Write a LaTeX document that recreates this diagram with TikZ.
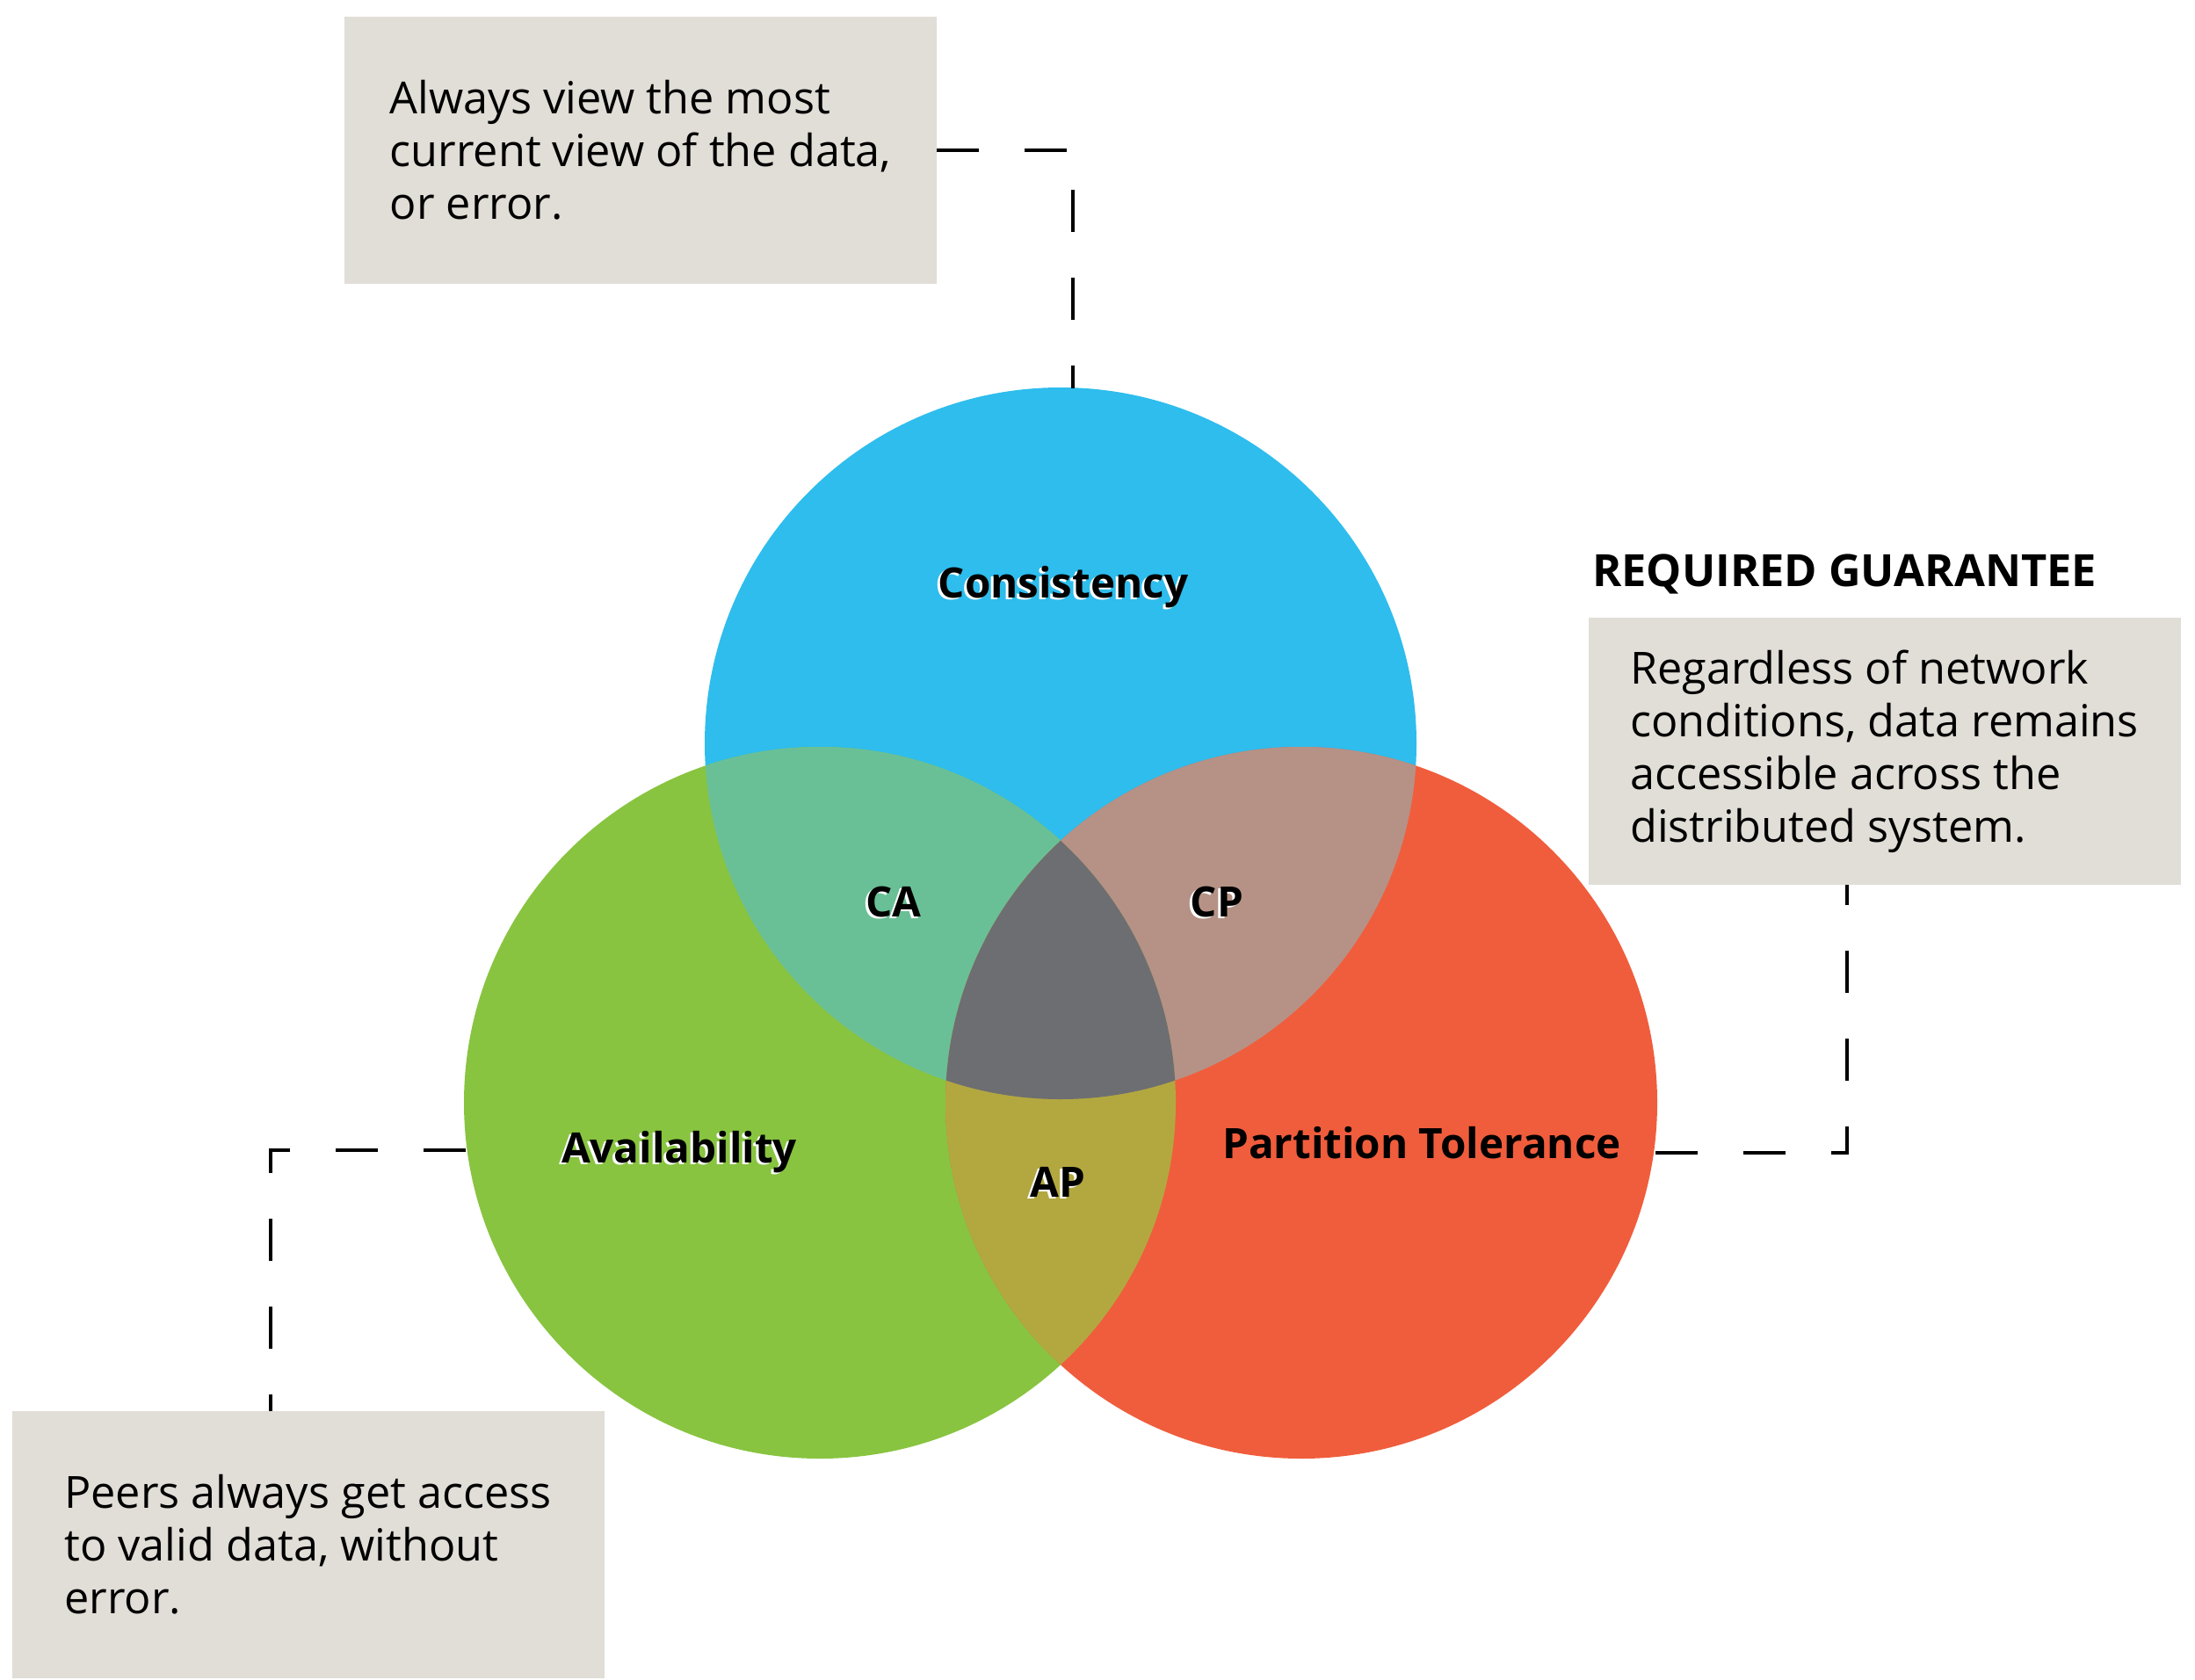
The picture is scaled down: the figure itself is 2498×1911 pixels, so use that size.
\documentclass[tikz,border=0pt]{standalone}
\usepackage{fontspec}
\setmainfont{Open Sans}
\definecolor{c2ebded}{RGB}{46,189,237}
\definecolor{c88c440}{RGB}{136,196,64}
\definecolor{cf05d3c}{RGB}{240,93,60}
\definecolor{c6ac096}{RGB}{106,192,150}
\definecolor{cb69286}{RGB}{182,146,134}
\definecolor{cb3a840}{RGB}{179,168,64}
\definecolor{c6d6e72}{RGB}{109,110,114}
\definecolor{ce1ddd7}{RGB}{225,221,215}

\begin{document}
\begin{tikzpicture}[y=0.5pt, x=0.5pt, yscale=-1, inner sep=0pt, outer sep=0pt,
  infobox/.style={fill=ce1ddd7, minimum width=337pt, minimum height=152pt,
    align=left, font=\fontsize{25.2}{30}\selectfont},
  setlabel/.style={anchor=base, font=\fontsize{23.8}{30}\selectfont\bfseries},
  halo/.style={setlabel, text=white, xshift=-1.5pt, yshift=-1pt},
  guide/.style={draw=black, line width=2pt, dash pattern=on 24pt off 26pt}]

  \useasboundingbox (0,0) rectangle (2498,1911);

  % the three sets
  \coordinate (cc) at (1207,846);
  \coordinate (ac) at (933,1255);
  \coordinate (pc) at (1481,1255);
  \fill[c2ebded] (cc) circle[radius=405];
  \fill[c88c440] (ac) circle[radius=405];
  \fill[cf05d3c] (pc) circle[radius=405];

  % overlaps
  \begin{scope}
    \clip (cc) circle[radius=405];
    \fill[c6ac096] (ac) circle[radius=405];
    \fill[cb69286] (pc) circle[radius=405];
  \end{scope}
  \begin{scope}
    \clip (ac) circle[radius=405];
    \fill[cb3a840] (pc) circle[radius=405];
    \clip (cc) circle[radius=405];
    \fill[c6d6e72] (pc) circle[radius=405];
  \end{scope}

  % set labels
  \foreach \nm/\px/\py/\txt in {cons/1210/680/Consistency, ca/1017/1043/CA,
    cp/1385/1043/CP, avail/773/1323/Availability, ap/1204/1362/AP}
  {
    \node[halo] at (\px,\py) {\txt};
    \node[setlabel] (\nm) at (\px,\py) {\txt};
  }
  \node[setlabel] (part) at (1618,1318) {Partition Tolerance};

  % guarantee boxes
  \node[infobox] (consbox) at (729,171) {Always view the most\\current view of the
    data,\\or error.};
  \node[anchor=base west, font=\fontsize{25.3}{30}\selectfont\bfseries] (reqtitle)
    at (1812,667) {REQUIRED GUARANTEE};
  \node[infobox] (partbox) at (2144.5,855) {Regardless of network\\conditions, data
    remains\\accessible across the\\distributed system.};
  \node[infobox] (availbox) at (350.5,1758) {Peers always get access\\to valid data,
    without\\error.};

  % dashed leaders
  \coordinate (constop) at (1221,442);
  \coordinate (partright) at (1884,1312);
  \coordinate (availleft) at (530,1309);
  \draw[guide] (consbox.east) -| (constop);
  \draw[guide] (partright) -| ([xshift=-21.5pt]partbox.south);
  \draw[guide] (availleft) -| ([xshift=-21.5pt]availbox.north);

\end{tikzpicture}
\end{document}
